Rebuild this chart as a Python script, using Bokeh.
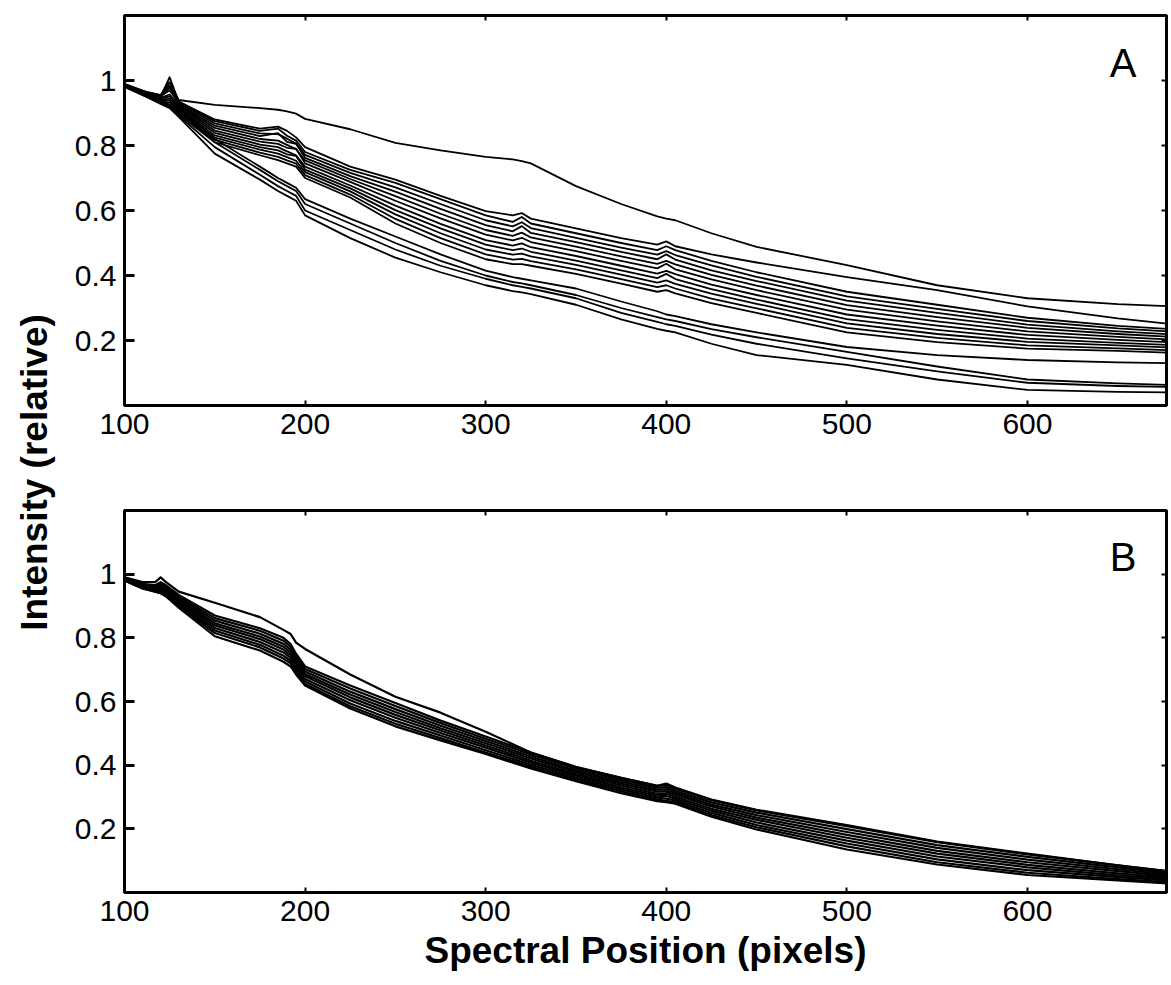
import math
from bokeh.plotting import figure
from bokeh.models import (ColumnDataSource, FixedTicker, LinearAxis, Label,
                          Range1d, CustomJSTickFormatter)
from bokeh.layouts import row, column
from bokeh.embed import file_html
from bokeh.resources import INLINE

# ---------------- data ----------------
x_ticks = [100, 200, 300, 400, 500, 600]
y_ticks = [0.2, 0.4, 0.6, 0.8, 1.0]
y_tick_labels = {0.2: "0.2", 0.4: "0.4", 0.6: "0.6", 0.8: "0.8", 1.0: "1"}
x_label = "Spectral Position (pixels)"
y_label = "Intensity (relative)"
panel_names = ["A", "B"]

# Panel A: spectral position samples
xa = [100, 112, 120, 125, 130, 150, 175, 185, 190, 195, 200, 225, 250, 275, 300,
      315, 320, 325, 350, 375, 395, 400, 405, 425, 450, 500, 550, 600, 650, 680]

a01 = [.985, .965, .955, .995, .94, .925, .915, .91, .905, .898, .882, .85, .808, .785, .765,
       .757, .752, .745, .675, .62, .582, .575, .57, .53, .488, .432, .37, .33, .312, .305]
a02 = [.985, .962, .95, 1.01, .935, .88, .852, .858, .845, .825, .795, .735, .695, .645, .598,
       .585, .592, .575, .545, .515, .495, .505, .49, .465, .44, .395, .355, .305, .268, .25]
a03 = [.99, .965, .955, .985, .935, .875, .845, .852, .83, .815, .78, .725, .685, .635, .585,
       .565, .58, .56, .53, .50, .478, .49, .478, .445, .41, .35, .31, .27, .245, .235]
a04 = [.989, .963, .952, .969, .932, .868, .837, .835, .821, .806, .771, .716, .671, .620, .570,
       .551, .564, .546, .516, .486, .464, .475, .463, .431, .396, .336, .297, .260, .237, .227]
a05 = [.988, .962, .950, .978, .928, .861, .829, .838, .811, .805, .762, .706, .658, .605, .555,
       .536, .552, .531, .503, .473, .450, .465, .449, .416, .383, .323, .285, .249, .228, .219]
a06 = [.987, .960, .947, .957, .925, .854, .820, .815, .802, .789, .754, .697, .644, .590, .540,
       .522, .532, .517, .489, .459, .436, .445, .434, .402, .369, .309, .272, .239, .220, .211]
a07 = [.986, .958, .944, .951, .922, .846, .812, .805, .793, .790, .745, .688, .630, .576, .526,
       .508, .516, .503, .475, .445, .422, .436, .419, .388, .355, .295, .259, .228, .211, .203]
a08 = [.984, .957, .941, .944, .918, .839, .803, .795, .782, .770, .735, .677, .615, .559, .509,
       .492, .499, .487, .460, .430, .406, .414, .404, .372, .340, .280, .246, .217, .202, .194]
a09 = [.983, .955, .938, .938, .915, .831, .795, .785, .773, .768, .726, .668, .601, .545, .495,
       .478, .483, .473, .446, .416, .392, .405, .389, .358, .326, .266, .233, .206, .193, .186]
a10 = [.982, .953, .936, .932, .912, .824, .787, .775, .764, .753, .718, .659, .588, .530, .480,
       .464, .467, .459, .433, .403, .378, .385, .374, .344, .313, .253, .220, .196, .185, .178]
a11 = [.981, .952, .933, .926, .908, .817, .778, .765, .754, .744, .709, .649, .574, .515, .465,
       .449, .451, .444, .419, .389, .364, .370, .360, .329, .299, .239, .208, .185, .176, .170]
a12 = [.98, .95, .93, .92, .905, .81, .77, .755, .745, .735, .70, .64, .56, .50, .45,
       .435, .435, .43, .405, .375, .35, .355, .345, .315, .285, .225, .195, .175, .168, .162]
a13 = [.985, .955, .935, .925, .90, .82, .735, .70, .685, .67, .635, .575, .52, .465, .415,
       .395, .39, .385, .36, .32, .29, .28, .275, .25, .225, .18, .155, .14, .133, .13]
a14 = [.984, .953, .932, .92, .895, .81, .725, .69, .675, .66, .62, .56, .50, .445, .40,
       .38, .376, .37, .34, .30, .272, .265, .26, .235, .21, .165, .12, .08, .068, .063]
a15 = [.983, .952, .93, .918, .892, .795, .71, .675, .66, .645, .60, .54, .48, .43, .39,
       .37, .365, .36, .33, .285, .257, .25, .245, .218, .19, .145, .105, .07, .06, .057]
a16 = [.982, .95, .928, .915, .888, .775, .695, .66, .645, .63, .585, .515, .455, .41, .37,
       .352, .348, .343, .31, .265, .236, .23, .225, .19, .155, .125, .08, .048, .042, .04]

# Panel B: spectral position samples
xb = [100, 110, 117, 120, 123, 130, 150, 175, 188, 192, 195, 200, 225, 250, 275,
      300, 325, 350, 375, 395, 400, 405, 425, 450, 500, 550, 600, 650, 680]

b01 = [.99, .975, .975, .99, .975, .945, .91, .865, .825, .812, .785, .765, .685, .615, .565,
       .505, .44, .393, .36, .335, .342, .33, .292, .26, .212, .16, .122, .085, .065]
b02 = [.99, .97, .965, .975, .965, .935, .87, .83, .80, .78, .75, .71, .65, .595, .54,
       .49, .44, .395, .36, .335, .338, .325, .29, .258, .208, .158, .12, .085, .065]
b03 = [.989, .968, .962, .970, .961, .930, .862, .822, .791, .772, .742, .702, .641, .586, .532,
       .483, .434, .389, .354, .329, .331, .319, .283, .251, .199, .149, .112, .079, .060]
b04 = [.987, .966, .959, .965, .956, .925, .854, .813, .781, .763, .733, .694, .631, .576, .524,
       .476, .427, .383, .348, .323, .324, .313, .276, .243, .190, .140, .103, .073, .055]
b05 = [.986, .964, .956, .960, .952, .920, .846, .804, .772, .754, .724, .686, .622, .567, .516,
       .469, .421, .378, .342, .317, .317, .307, .270, .235, .181, .131, .095, .067, .051]
b06 = [.984, .961, .954, .955, .948, .915, .839, .796, .763, .746, .716, .679, .613, .558, .509,
       .462, .414, .372, .336, .310, .310, .301, .263, .228, .172, .122, .087, .060, .046]
b07 = [.983, .959, .951, .950, .944, .910, .831, .787, .754, .737, .707, .671, .604, .549, .501,
       .455, .408, .367, .330, .304, .303, .295, .257, .220, .163, .113, .079, .054, .042]
b08 = [.981, .957, .948, .945, .939, .905, .823, .778, .744, .728, .698, .663, .594, .539, .493,
       .447, .401, .361, .324, .298, .295, .289, .250, .212, .154, .104, .070, .048, .037]
b09 = [.98, .955, .945, .94, .935, .90, .815, .77, .735, .72, .69, .655, .585, .53, .485,
       .44, .395, .355, .318, .292, .288, .283, .243, .205, .145, .095, .062, .042, .032]
b10 = [.98, .955, .945, .94, .93, .895, .805, .76, .725, .71, .685, .65, .578, .522, .478,
       .435, .39, .35, .312, .287, .284, .279, .238, .198, .135, .088, .055, .038, .028]

series_a = [a01, a02, a03, a04, a05, a06, a07, a08, a09, a10, a11, a12, a13, a14, a15, a16]
series_b = [b01, b02, b03, b04, b05, b06, b07, b08, b09, b10]

# ---------------- styling ----------------
FONT = "Liberation Sans"
TICK_SIZE = "30px"
LAB_SIZE = "37px"
X_START, X_END = 100, 677
Y_START, Y_END = 0, 1.2
TOTAL_H = 983


def make_panel(xs, series, name, height, top, bottom, with_xlabel, lw):
    p = figure(width=1100, height=height, output_backend="svg", toolbar_location=None,
               x_range=Range1d(X_START, X_END), y_range=Range1d(Y_START, Y_END),
               min_border_left=56, min_border_right=2, min_border_top=top,
               min_border_bottom=bottom, x_axis_type=None, y_axis_type=None)
    p.xgrid.grid_line_color = None
    p.ygrid.grid_line_color = None
    p.outline_line_color = "black"
    p.outline_line_width = 3
    p.background_fill_color = "white"
    p.border_fill_color = "white"

    src = ColumnDataSource(dict(xs=[xs] * len(series), ys=series))
    p.multi_line(xs="xs", ys="ys", source=src, line_color="black", line_width=lw,
                 line_join="round")

    xb_ax = LinearAxis(ticker=FixedTicker(ticks=x_ticks))
    yl_ax = LinearAxis(ticker=FixedTicker(ticks=y_ticks), major_label_overrides=y_tick_labels)
    xt_ax = LinearAxis(ticker=FixedTicker(ticks=x_ticks),
                       formatter=CustomJSTickFormatter(code="return ''"))
    yr_ax = LinearAxis(ticker=FixedTicker(ticks=y_ticks),
                       formatter=CustomJSTickFormatter(code="return ''"))
    for ax in (xb_ax, yl_ax, xt_ax, yr_ax):
        ax.axis_line_color = "black"
        ax.axis_line_width = 3
        ax.major_tick_out = 0
        ax.minor_tick_line_color = None
        ax.major_label_text_font = FONT
        ax.major_label_text_color = "black"
        ax.major_label_text_font_size = TICK_SIZE
        ax.major_tick_line_color = "black"
    yl_ax.major_tick_in = 10
    yl_ax.major_tick_line_width = 3
    yl_ax.major_label_standoff = 8
    xb_ax.major_tick_in = 5
    xb_ax.major_tick_line_width = 2
    xb_ax.major_label_standoff = 8
    for ax in (xt_ax, yr_ax):
        ax.major_tick_in = 5
        ax.major_tick_line_width = 2
        ax.major_label_standoff = 0
        ax.major_label_text_font_size = "1px"
    if with_xlabel:
        xb_ax.axis_label = x_label
        xb_ax.axis_label_text_font = FONT
        xb_ax.axis_label_text_font_style = "bold"
        xb_ax.axis_label_text_font_size = LAB_SIZE
        xb_ax.axis_label_text_color = "black"
        xb_ax.axis_label_standoff = 6
    p.add_layout(xb_ax, "below")
    p.add_layout(yl_ax, "left")
    p.add_layout(xt_ax, "above")
    p.add_layout(yr_ax, "right")

    p.add_layout(Label(x=653, y=1.055, text=name, text_font=FONT, text_font_size="40px",
                       text_align="center", text_baseline="middle", text_color="black"))
    return p


pA = make_panel(xa, series_a, panel_names[0], 478, 15, 73, False, 1.8)
pB = make_panel(xb, series_b, panel_names[1], TOTAL_H - 478, 32, 91, True, 2.2)

labfig = figure(width=68, height=TOTAL_H, output_backend="svg", toolbar_location=None,
                x_range=Range1d(0, 68), y_range=Range1d(0, TOTAL_H), min_border=0,
                x_axis_type=None, y_axis_type=None)
labfig.xgrid.grid_line_color = None
labfig.ygrid.grid_line_color = None
labfig.outline_line_color = None
labfig.add_layout(Label(x=34, y=511, text=y_label, angle=math.pi / 2,
                        text_font=FONT, text_font_style="bold", text_font_size=LAB_SIZE,
                        text_align="center", text_baseline="alphabetic", text_color="black"))

layout = row(labfig, column(pA, pB))
open("out.html", "w").write(file_html(layout, INLINE))
